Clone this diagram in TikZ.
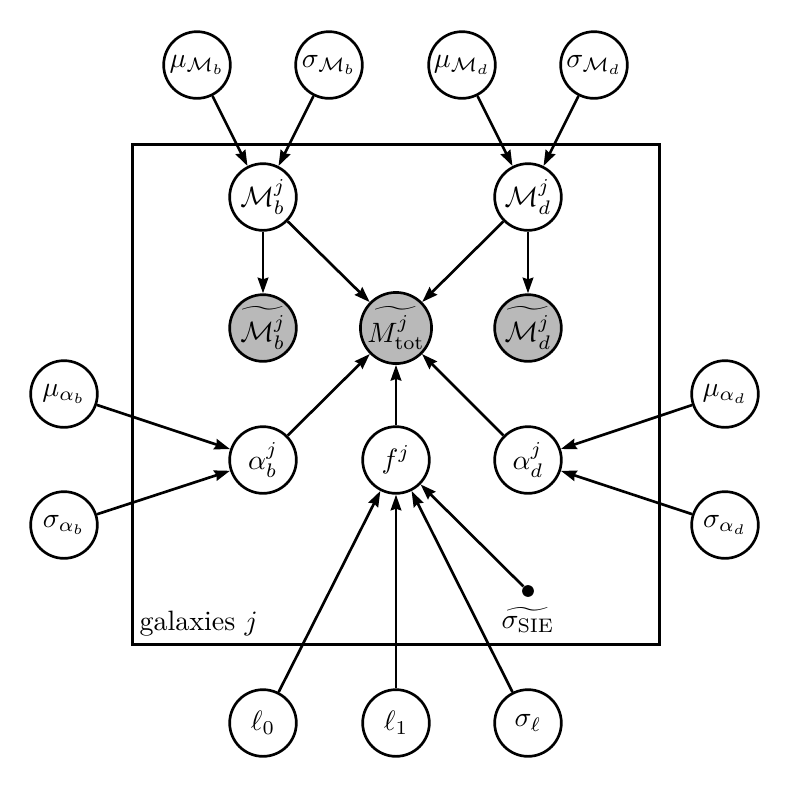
\documentclass[tikz,border=0pt]{standalone}
\usetikzlibrary{arrows.meta}
\definecolor{obsgray}{RGB}{185,185,185}
\begin{document}
\begin{tikzpicture}[x=0.357pt,y=-0.357pt,
  latent/.style={circle,draw,line width=0.95pt,minimum size=23.8pt,inner sep=0pt,fill=white},
  observed/.style={latent,fill=obsgray},
  fixeddot/.style={circle,fill=black,inner sep=0pt,minimum size=4.2pt},
  edge/.style={-{Stealth[length=5.6pt,width=3.8pt,inset=0.6pt]},line width=0.95pt},
  plate/.style={draw,line width=0.95pt}]
\useasboundingbox (0,0) rectangle (789,789);
% plate
\node[plate,minimum width=527*0.357pt,minimum height=500*0.357pt,anchor=north west,inner sep=0pt] (pl) at (131,143) {};
\node[anchor=south west,inner sep=0pt] (pllab) at (139,637) {galaxies $j$};
% top hyperparameters
\node[latent] (muMb) at (197,65) {$\mu_{\mathcal{M}_b}$};
\node[latent] (sMb) at (329,65) {$\sigma_{\mathcal{M}_b}$};
\node[latent] (muMd) at (462,65) {$\mu_{\mathcal{M}_d}$};
\node[latent] (sMd) at (594,65) {$\sigma_{\mathcal{M}_d}$};
% masses
\node[latent] (Mb) at (263,197) {$\mathcal{M}_b^j$};
\node[latent] (Md) at (528,197) {$\mathcal{M}_d^j$};
% observed
\node[observed] (tMb) at (263,328) {$\widetilde{\mathcal{M}_b^j}$};
\node[observed] (tMtot) at (396,328) {$\widetilde{M^j_{\mathrm{tot}}}$};
\node[observed] (tMd) at (528,328) {$\widetilde{\mathcal{M}_d^j}$};
% alphas
\node[latent] (mua) at (64,394) {$\mu_{\alpha_b}$};
\node[latent] (sa) at (64,525) {$\sigma_{\alpha_b}$};
\node[latent] (ab) at (263,460) {$\alpha_b^j$};
\node[latent] (f) at (396,460) {$f^j$};
\node[latent] (ad) at (528,460) {$\alpha_d^j$};
\node[latent] (muad) at (725,394) {$\mu_{\alpha_d}$};
\node[latent] (sad) at (725,525) {$\sigma_{\alpha_d}$};
% fixed
\node[fixeddot] (sSIE) at (528,591) {};
\node[inner sep=0pt] (sSIElab) at (528,620) {$\widetilde{\sigma_{\mathrm{SIE}}}$};
% bottom
\node[latent] (l0) at (263,723) {$\ell_0$};
\node[latent] (l1) at (396,723) {$\ell_1$};
\node[latent] (sl) at (528,723) {$\sigma_\ell$};
% edges
\draw[edge] (muMb) -- (Mb);
\draw[edge] (sMb) -- (Mb);
\draw[edge] (muMd) -- (Md);
\draw[edge] (sMd) -- (Md);
\draw[edge] (Mb) -- (tMb);
\draw[edge] (Mb) -- (tMtot);
\draw[edge] (Md) -- (tMtot);
\draw[edge] (Md) -- (tMd);
\draw[edge] (ab) -- (tMtot);
\draw[edge] (f) -- (tMtot);
\draw[edge] (ad) -- (tMtot);
\draw[edge] (mua) -- (ab);
\draw[edge] (sa) -- (ab);
\draw[edge] (muad) -- (ad);
\draw[edge] (sad) -- (ad);
\draw[edge] (l0) -- (f);
\draw[edge] (l1) -- (f);
\draw[edge] (sl) -- (f);
\draw[edge] (sSIE) -- (f);
\end{tikzpicture}
\end{document}
